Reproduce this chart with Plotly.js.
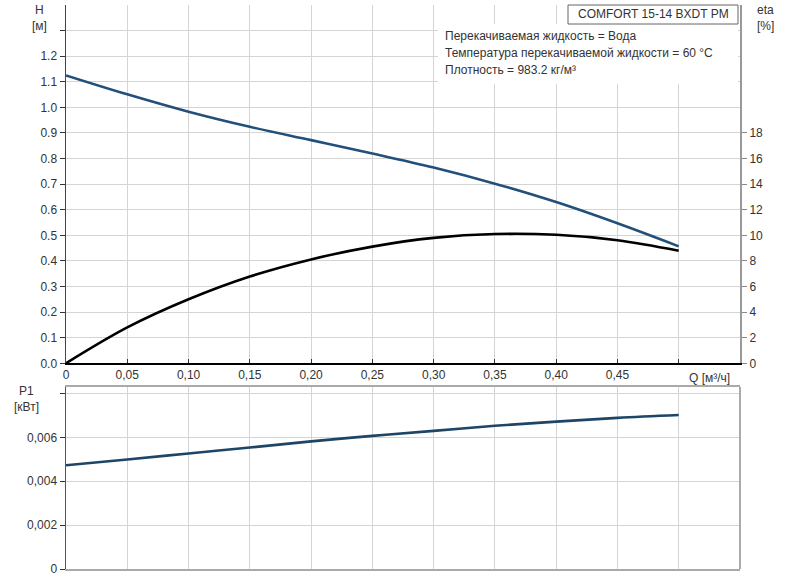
<!DOCTYPE html>
<html>
<head>
<meta charset="utf-8">
<script src="https://cdn.plot.ly/plotly-3.0.1.min.js"></script>
<style>html,body{margin:0;padding:0;background:#fff;}#chart{width:785px;height:577px;}</style>
</head>
<body>
<div id="chart"></div>
<script>
// Flow rate Q [m³/h]
const flow = [0, 0.05, 0.10, 0.15, 0.20, 0.25, 0.30, 0.35, 0.40, 0.45, 0.50];
// Head H [m]
const head = [1.125, 1.051, 0.983, 0.924, 0.872, 0.820, 0.765, 0.702, 0.630, 0.547, 0.457];
// Efficiency eta [%]
const eta = [0, 2.8, 5.0, 6.78, 8.12, 9.12, 9.8, 10.1, 10.04, 9.62, 8.8];
// Power P1 [kW]
const power = [0.00473, 0.00499, 0.00527, 0.00554, 0.00582, 0.00607, 0.00630, 0.00653, 0.00672, 0.00689, 0.00702];

const xTickVals = [0, 0.05, 0.10, 0.15, 0.20, 0.25, 0.30, 0.35, 0.40, 0.45, 0.50];
const xTickText = ["0", "0,05", "0,10", "0,15", "0,20", "0,25", "0,30", "0,35", "0,40", "0,45", ""];
const hTickVals = [0, 0.1, 0.2, 0.3, 0.4, 0.5, 0.6, 0.7, 0.8, 0.9, 1.0, 1.1, 1.2, 1.3];
const hTickText = ["0.0", "0.1", "0.2", "0.3", "0.4", "0.5", "0.6", "0.7", "0.8", "0.9", "1.0", "1.1", "1.2", ""];
const etaTickVals = [0, 2, 4, 6, 8, 10, 12, 14, 16, 18];
const pTickVals = [0, 0.002, 0.004, 0.006, 0.008];
const pTickText = ["0", "0,002", "0,004", "0,006", ""];

const fontFam = "Liberation Sans, Arial, sans-serif";
const tf = {family: fontFam, size: 12, color: "#333"};
const grid = "#d4d4d4";

const traces = [
  {x: flow, y: head, xaxis: "x", yaxis: "y", mode: "lines",
   line: {color: "#22507a", width: 2.6, shape: "spline"}, hoverinfo: "skip"},
  {x: flow, y: eta, xaxis: "x", yaxis: "y2", mode: "lines",
   line: {color: "#000000", width: 2.6, shape: "spline"}, hoverinfo: "skip"},
  {x: flow, y: power, xaxis: "x2", yaxis: "y3", mode: "lines",
   line: {color: "#1e4466", width: 2.6, shape: "spline"}, hoverinfo: "skip"}
];

const W = 674, H0 = 569, PH = 564;
const px = v => (v - 66) / W;
const py = v => (H0 - v) / PH;
const ann = (text, x, y, anchor) => ({text: text, xref: "paper", yref: "paper", x: px(x), y: py(y),
  xanchor: anchor || "center", yanchor: "middle", showarrow: false, font: tf});

const layout = {
  width: 785, height: 577,
  margin: {l: 66, r: 45, t: 5, b: 8},
  paper_bgcolor: "#fff", plot_bgcolor: "#fff",
  showlegend: false,
  font: tf,
  xaxis: {domain: [0, 1], anchor: "y", range: [0, 0.55], tickvals: xTickVals, ticktext: xTickText,
    showgrid: true, gridcolor: grid, zeroline: false, showline: true, linecolor: "#000", linewidth: 1.5,
    ticks: "inside", ticklen: 4, tickcolor: "#333", tickfont: tf},
  yaxis: {domain: [py(363.3), 1], anchor: "x", range: [0, 1.4], tickvals: hTickVals, ticktext: hTickText,
    showgrid: true, gridcolor: grid, zeroline: false, showline: true, linecolor: "#444", linewidth: 1.5,
    ticks: "outside", ticklen: 5, tickcolor: "#333", tickfont: tf},
  yaxis2: {overlaying: "y", side: "right", anchor: "x", range: [0, 28], tickvals: etaTickVals,
    showgrid: false, zeroline: false, showline: true, linecolor: "#999", linewidth: 2,
    ticks: "outside", ticklen: 5, tickcolor: "#888", tickfont: tf},
  xaxis2: {domain: [0, 1], anchor: "y3", range: [0, 0.55], tickvals: xTickVals, showticklabels: false,
    showgrid: true, gridcolor: grid, zeroline: false, showline: true, mirror: true, linecolor: "#aaa", linewidth: 2,
    ticks: ""},
  yaxis3: {domain: [0, py(387)], anchor: "x2", range: [0, 0.0083], tickvals: pTickVals, ticktext: pTickText,
    showgrid: true, gridcolor: grid, zeroline: false, showline: true, linecolor: "#555", linewidth: 1.5,
    ticks: "outside", ticklen: 5, tickcolor: "#333", tickfont: tf},
  shapes: [
    {type: "line", xref: "paper", yref: "paper", x0: 1, x1: 1, y0: 0, y1: py(387), line: {color: "#aaa", width: 2}},
    {type: "rect", xref: "paper", yref: "paper", x0: px(438), x1: px(738), y0: py(84), y1: py(24),
      fillcolor: "#fff", line: {width: 0}, layer: "above"},
    {type: "rect", xref: "paper", yref: "paper", x0: px(568), x1: px(738), y0: py(24), y1: py(5),
      fillcolor: "#fff", line: {color: "#666", width: 1}, layer: "above"}
  ],
  annotations: [
    ann("H", 39, 10),
    ann("[м]", 39, 26),
    ann("eta", 765, 10),
    ann("[%]", 765, 26),
    ann("P1", 26, 391),
    ann("[кВт]", 26, 407),
    ann("Q [м³/ч]", 709, 378),
    ann("COMFORT 15-14 BXDT PM", 653, 14.5),
    ann("Перекачиваемая жидкость = Вода", 443, 36, "left"),
    ann("Температура перекачиваемой жидкости = 60 °C", 443, 53, "left"),
    ann("Плотность = 983.2 кг/м³", 443, 70, "left")
  ]
};

Plotly.newPlot("chart", traces, layout, {staticPlot: true, displayModeBar: false});
</script>
</body>
</html>
